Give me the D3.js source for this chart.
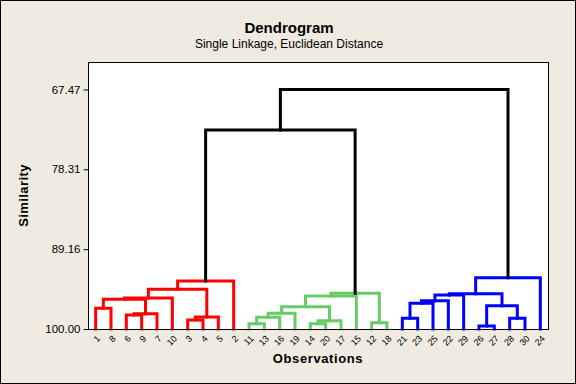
<!DOCTYPE html>
<html>
<head>
<meta charset="utf-8">
<script src="https://cdn.jsdelivr.net/npm/d3@7"></script>
<style>
  body { margin: 0; background: #efebe1; }
  text { font-family: "Liberation Sans", Arial, sans-serif; }
</style>
</head>
<body>
<div id="chart"></div>
<script>
// Leaf order along the x axis
const leaves = ["1","8","6","9","7","10","3","4","5","2",
  "11","13","16","19","14","20","17","15","12","18",
  "21","23","25","22","29","26","27","28","30","24"];

// Cluster each leaf belongs to (0 red, 1 green, 2 blue)
const leafCluster = [0,0,0,0,0,0,0,0,0,0, 1,1,1,1,1,1,1,1,1,1, 2,2,2,2,2,2,2,2,2,2];
const clusterColors = ["#ff0000", "#66cc66", "#0000ff"];

// Merges: [left, right, similarity]; "mN" refers to merge N
const merges = [
  ["1", "8", 97.19],     // m0
  ["6", "9", 98.10],     // m1
  ["m1", "7", 97.92],    // m2
  ["3", "4", 98.78],     // m3
  ["m3", "5", 98.37],    // m4
  ["m0", "m2", 95.97],   // m5
  ["m5", "10", 95.79],   // m6
  ["m6", "m4", 94.61],   // m7
  ["m7", "2", 93.48],    // m8
  ["11", "13", 99.28],   // m9
  ["m9", "16", 98.41],   // m10
  ["m10", "19", 97.87],  // m11
  ["14", "20", 99.28],   // m12
  ["m12", "17", 98.87],  // m13
  ["m11", "m13", 96.97], // m14
  ["m14", "15", 95.52],  // m15
  ["12", "18", 99.14],   // m16
  ["m15", "m16", 95.15], // m17
  ["21", "23", 98.55],   // m18
  ["m18", "25", 96.51],  // m19
  ["m19", "22", 96.16],  // m20
  ["m20", "29", 95.38],  // m21
  ["26", "27", 99.59],   // m22
  ["28", "30", 98.55],   // m23
  ["m22", "m23", 96.84], // m24
  ["m21", "m24", 95.21], // m25
  ["m25", "24", 93.03],  // m26
  ["m8", "m17", 72.97],  // m27
  ["m27", "m26", 67.47]  // m28
];

const yTicks = [100, 89.16, 78.31, 67.47];

const W = 576, H = 384;
const plot = { left: 88, top: 62, right: 548, bottom: 329 };

const svg = d3.select('#chart').append('svg')
  .attr('width', W)
  .attr('height', H);

// Background and outer border
svg.append('rect')
  .attr('x', 0.5).attr('y', 0.5)
  .attr('width', W - 1).attr('height', H - 1)
  .attr('fill', '#efebe1')
  .attr('stroke', '#000');

svg.append('rect')
  .attr('x', plot.left).attr('y', plot.top)
  .attr('width', plot.right - plot.left).attr('height', plot.bottom - plot.top)
  .attr('fill', '#fff');

// Scales
const x = d3.scalePoint()
  .domain(leaves)
  .range([plot.left, plot.right])
  .padding(0.5);

const y = d3.scaleLinear()
  .domain([100, 63.74])
  .range([plot.bottom, plot.top]);

// Resolve node positions
const nodes = {};
leaves.forEach((l, i) => {
  nodes[l] = { x: x(l), sim: 100, cluster: leafCluster[i] };
});
merges.forEach((m, i) => {
  const a = nodes[m[0]], b = nodes[m[1]];
  nodes['m' + i] = {
    x: (a.x + b.x) / 2,
    sim: m[2],
    cluster: a.cluster === b.cluster ? a.cluster : -1,
    a: a, b: b
  };
});

// Draw links
const linkG = svg.append('g')
  .attr('fill', 'none')
  .attr('stroke-width', 3)
  .attr('stroke-linejoin', 'miter')
  .attr('stroke-linecap', 'square');

merges.forEach((m, i) => {
  const n = nodes['m' + i];
  const path = d3.path();
  path.moveTo(n.a.x, y(n.a.sim));
  path.lineTo(n.a.x, y(n.sim));
  path.lineTo(n.b.x, y(n.sim));
  path.lineTo(n.b.x, y(n.b.sim));
  linkG.append('path')
    .attr('d', path.toString())
    .attr('stroke', n.cluster >= 0 ? clusterColors[n.cluster] : '#000');
});

// Plot frame
svg.append('rect')
  .attr('x', plot.left + 0.5).attr('y', plot.top + 0.5)
  .attr('width', plot.right - plot.left).attr('height', plot.bottom - plot.top)
  .attr('fill', 'none')
  .attr('stroke', '#000');

// Y axis
const yAxis = svg.append('g')
  .attr('transform', `translate(${plot.left + 0.5},0)`)
  .call(d3.axisLeft(y).tickValues(yTicks).tickFormat(d3.format('.2f')).tickSize(5).tickSizeOuter(0));
yAxis.select('.domain').remove();
yAxis.selectAll('text')
  .attr('font-size', 11.5)
  .attr('font-family', '"Liberation Sans", Arial, sans-serif')
  .attr('fill', '#000');

// Leaf labels
svg.append('g')
  .selectAll('text')
  .data(leaves)
  .enter().append('text')
  .attr('transform', d => `translate(${x(d) + 3},${plot.bottom + 8}) rotate(-45)`)
  .attr('text-anchor', 'end')
  .attr('dy', '0.35em')
  .attr('font-size', 9)
  .text(d => d);

// Titles
svg.append('text')
  .attr('x', W / 2 + 1).attr('y', 33)
  .attr('text-anchor', 'middle')
  .attr('font-size', 15)
  .attr('font-weight', 'bold')
  .text('Dendrogram');

svg.append('text')
  .attr('x', W / 2 + 1).attr('y', 48)
  .attr('text-anchor', 'middle')
  .attr('font-size', 12)
  .text('Single Linkage, Euclidean Distance');

svg.append('text')
  .attr('x', (plot.left + plot.right) / 2).attr('y', 363)
  .attr('text-anchor', 'middle')
  .attr('font-size', 13)
  .attr('font-weight', 'bold')
  .attr('letter-spacing', 0.6)
  .text('Observations');

svg.append('text')
  .attr('transform', `translate(28,${(plot.top + plot.bottom) / 2}) rotate(-90)`)
  .attr('text-anchor', 'middle')
  .attr('font-size', 13)
  .attr('font-weight', 'bold')
  .attr('letter-spacing', 0.4)
  .text('Similarity');
</script>
</body>
</html>
